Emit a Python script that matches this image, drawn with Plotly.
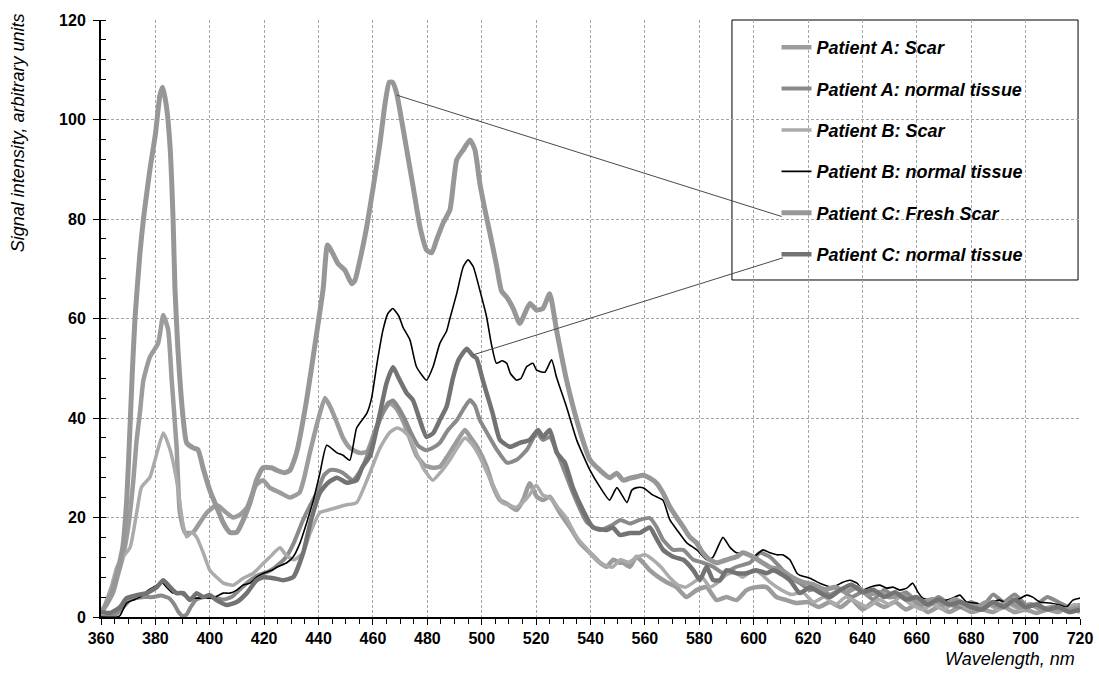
import plotly.graph_objects as go

# ---- spectra: wavelength (nm) and signal intensity (arbitrary units) ----
a_scar_wl = [360, 362, 364.5, 366, 368, 370, 371.9, 373, 374.3, 375.6, 378, 381, 382.9, 384.7, 386, 387.8, 389, 390.9,
             393.8, 396.4, 399, 402.6, 406, 408.5, 411, 413.7, 417, 419.6, 422, 425.8, 429.5, 433, 434.5, 436.8, 440,
             442.4, 444.5, 446.8, 449, 451.5, 455, 457.8, 460.5, 463, 466.2, 468.5, 471, 473.5, 476, 479, 482, 484.6,
             487, 490, 493.8, 496, 498.5, 501.8, 504, 506.7, 509.2, 512.8, 515.2, 517.7, 520.2, 522.6, 525, 528.8,
             532.4, 536.1, 539.8, 543.5, 545.9, 548.4, 550.8, 552, 554.5, 556.9, 559.4, 561.8, 565, 568, 571.6, 575.3,
             579, 582.7, 586.4, 590, 593.7, 597.4, 601, 604.7, 608.4, 612.1, 615.8, 620, 624, 628, 632, 636, 640, 644,
             648, 652, 656, 660, 664, 668, 672, 676, 680, 684, 688, 692, 696, 700, 704, 708, 712, 716, 720]
a_scar_val = [1, 2.5, 5, 8, 12, 18, 27.5, 35, 41, 47.6, 52.3, 55, 60.7, 57.7, 47.6, 34.2, 21, 17,
              17, 19, 21, 22.5, 21, 20, 20.5, 22, 26.5, 27.5, 26, 25, 24, 25, 27.5, 33, 40,
              44, 42, 39, 36, 34, 33, 33.2, 37, 40.5, 43, 42, 39.5, 36, 32.5, 30.5, 30, 30.2,
              32, 34.5, 37.6, 36, 34, 30.2, 26.5, 23.5, 22.8, 21.5, 23.5, 26.9, 24.2, 23.5, 24.2, 20.9,
              18.1, 14.9, 12.9, 10.9, 10.1, 11.5, 10.9, 10.9, 10.1, 12.1, 10.9, 9.4, 8, 7, 6, 4,
              5.4, 6, 3.4, 4, 3.4, 5.4, 6, 6, 4, 3.4, 2.8, 3, 2, 3, 2, 3.5, 1.5, 3,
              2, 3, 1.5, 2.5, 1, 2, 1, 2, 1, 1.5, 1, 2, 1, 1.5, 0.8, 1.5, 1, 2, 1]

a_norm_wl = [360, 365, 368.2, 370.7, 373, 376, 379, 382, 385, 387, 388.5, 390, 391.5, 393, 395, 398, 402.5, 405, 408,
             411, 414, 418, 421, 424, 428, 431, 434.3, 436.5, 439.4, 442, 444.2, 446.5, 448.9, 452.6, 455.5, 459,
             462.5, 465.5, 467.5, 469.5, 471.5, 474, 476.5, 479.5, 482, 484.6, 487.5, 490.9, 493.5, 495.7, 497.5,
             499.3, 502.5, 505.6, 509.3, 512.9, 516.6, 520.3, 522.5, 525, 528.8, 533.5, 538.7, 543.5, 548, 551,
             554.5, 558, 561.8, 564.3, 566.7, 570.4, 574.1, 577.8, 581.5, 585.1, 588.8, 593.7, 598.6, 602.3, 606,
             609.6, 613.3, 617, 620.7, 624, 628, 632, 636, 640, 644, 648, 652, 656, 660, 664, 668, 672, 676, 680,
             684, 688, 692, 696, 700, 704, 708, 712, 716, 720]
a_norm_val = [0, 0.3, 2, 3.4, 3.8, 4, 4, 4.3, 3.8, 2.5, 1, 0.2, 0.5, 2, 3.5, 4, 3.8, 3.5, 4,
              5.5, 7, 8.5, 9, 10, 12, 15, 19.5, 22, 25, 28.5, 29.5, 29.5, 29, 27.5, 29.5, 34,
              39.5, 43, 43.5, 42, 40, 37, 34.5, 33.5, 34, 35, 37.5, 39.6, 42, 43.6, 42.5,
              39.6, 36.5, 33.6, 31, 31.6, 33.6, 37, 35.6, 36.2, 31.6, 25, 19, 17.5, 18.5, 19.5,
              18.8, 19.5, 19.9, 18.1, 15.5, 13.5, 13.5, 11.5, 10.9, 10.1, 8.8, 10.1, 10.9, 12.9, 12.1,
              10.1, 8, 6.8, 5.4, 6, 4.5, 5.5, 4, 5, 3.5, 5.5, 4, 5, 3, 2.5, 4, 2.5, 2, 3,
              2, 4.5, 3, 4.5, 2.5, 2.5, 4, 3, 2, 2.5]

b_scar_wl = [360, 362, 364, 365.8, 368, 370.7, 373.1, 374.9, 378, 379.9, 382.9, 385.4, 387.8, 390.3, 391.5, 393.5,
             395.2, 397.6, 400, 402.5, 405, 408.6, 412.3, 416, 419.7, 422, 425.8, 428, 431, 434.3, 437, 440.5, 443.5,
             446.8, 450, 454, 457.8, 462.6, 466, 468.8, 471, 473.6, 476, 478.4, 482, 484.6, 488.3, 491, 493.8, 496,
             499, 502, 505, 507.5, 510, 512.5, 515, 517.5, 520, 522.5, 525, 528, 531, 535, 539, 542, 545, 548, 551,
             554, 557, 560, 563, 566, 569, 572, 575, 578, 581, 584, 587, 590, 593, 596, 600, 603, 606, 610, 614, 618,
             622, 626, 630, 634, 638, 642, 646, 650, 654, 658, 662, 666, 670, 674, 678, 682, 686, 690, 694, 698, 702,
             706, 710, 714, 718, 720]
b_scar_val = [0.5, 3.4, 6.5, 10, 12, 14, 20.9, 26.1, 28.1, 31.6, 37, 33.6, 27.5, 18.1, 16.1, 17,
              16, 12.9, 9.4, 8, 6.8, 6.4, 7.8, 8.8, 10.8, 12, 13.9, 12.5, 11.5, 12.9, 17, 21, 21.5,
              22, 22.5, 23, 27.5, 34, 37, 38, 37.5, 36, 33, 30, 27.5, 28.9, 31.6, 34, 36, 35,
              32.5, 29, 25.5, 23, 22.5, 22, 23, 24.5, 26.5, 24.5, 24, 22, 20, 16, 13.5, 11.5, 10.5, 10, 11.5,
              11, 12, 12.5, 11.5, 10, 8, 6.5, 6, 7, 8, 6, 7, 8.5, 9, 8, 9.5, 8.5, 7, 5.5, 4.5, 5,
              3, 4, 2.5, 4, 3, 2, 3.5, 2.5, 4, 2.5, 1.5, 2.5, 1.5, 3, 2, 1.5, 2.5, 1.5, 2.5, 1.5, 2.5,
              1.5, 2, 1.5, 2.5, 2]

b_norm_wl = [360, 366, 367, 369.4, 371.8, 374.3, 377.4, 380.5, 382.3, 384.1, 386.5, 389, 391.5, 393.9, 397.5, 401.2,
             404.9, 407.4, 409.9, 412.2, 414.8, 417.2, 419.7, 422.8, 424.6, 428.3, 430.7, 433.2, 435.6, 438.1, 440.5,
             443, 446.8, 449, 451.5, 454, 457.8, 459.5, 461.5, 463.7, 465.5, 467.3, 469.5, 471, 473.6, 476, 479.7,
             482.1, 484.6, 487.1, 488.3, 490.8, 493.2, 495, 496.9, 499.3, 501.8, 503.5, 505.4, 507.5, 509.2, 510.5,
             512.8, 514.5, 516.5, 518.8, 520.2, 523.2, 525.7, 527.5, 531.2, 534.9, 539.8, 543.5, 547, 549.7, 553.4,
             555.2, 557, 559.3, 563, 566.6, 569.2, 571.8, 575.4, 579.1, 582.8, 585, 588.7, 591.3, 593.8, 596, 599.7,
             603.4, 606, 608.5, 610.7, 613.3, 615.9, 617, 620.7, 624.3, 629.1, 632.8, 635.4, 638, 640.2, 642.7,
             646.4, 649, 651.2, 653.7, 656.3, 658.5, 660.4, 662.2, 664.8, 667.4, 671, 673.2, 675.8, 678.3, 682,
             685.7, 688, 690.5, 693, 696.8, 700.4, 702.6, 705.2, 708.9, 712.6, 715, 717.4, 720]
b_norm_val = [0, 0, 0.3, 2.8, 3.4, 4, 5.4, 6.4, 7, 6, 4.8, 4.8, 4, 3.8, 3.8, 3.8,
              4.8, 4.8, 5.4, 6.4, 6.8, 8, 8.8, 9.4, 10, 10.9, 12.1, 14.9, 18.9, 23.5, 28.9,
              34.5, 33, 32.5, 31.5, 38, 41, 44, 51, 57.7, 61, 62, 60.5, 58.3, 55.7, 50.3, 47.6,
              50.3, 55, 57.5, 60, 65, 70.4, 71.8, 70.4, 65.7, 60.3, 55, 51, 51.5, 51, 49,
              47.6, 48, 50.3, 51, 49.6, 49.2, 51.7, 48.2, 42.2, 35.6, 29.5, 26.1, 23.5, 26, 23,
              25.5, 26, 26, 24.5, 23.5, 19.5, 17.5, 14.9, 13.5, 11.5, 12, 16, 14, 12.9, 12.9, 12,
              13.5, 12.9, 12.5, 12.5, 11.5, 8.8, 8.4, 7.8, 6.8, 6, 7, 7.4, 6.8, 5.4, 6,
              6.4, 5.8, 6, 5.4, 5.8, 6.8, 5, 3.8, 3.4, 3, 3.4, 3.8, 4.4, 3, 2.8,
              2, 3, 3.4, 2.8, 3.4, 4.4, 4, 3, 2.8, 2.4, 2, 3.4, 3.8]

c_fresh_wl = [360, 362, 364, 366, 368, 369.5, 370.5, 371.5, 372.5, 374.3, 375.6, 378, 380, 381.7, 382.7, 384.1, 385.4,
              386.5, 387.2, 388.3, 390.2, 391.5, 393.9, 395.7, 397.5, 400, 402.6, 404.9, 407.4, 409.9, 412.3, 414.8,
              417.2, 419.6, 422.7, 424.6, 427.6, 429.5, 431.9, 435.6, 439.3, 441.7, 443.3, 445.3, 447.2, 449.7,
              452.2, 453.4, 455.2, 457.7, 460.1, 462.6, 464.4, 466, 467.2, 468.7, 470.5, 472.4, 474.8, 477.3,
              479.7, 481.6, 483.4, 485.8, 488.3, 490.8, 493.2, 495.7, 497.5, 499.3, 501.2, 503, 505.5, 507.3,
              509.2, 511.6, 514, 517.7, 520.2, 522.5, 525, 527.5, 531.2, 536, 539.8, 543.5, 547.1, 549.6, 552,
              554.5, 556.9, 559.4, 561.8, 564.3, 566.7, 569.2, 571.6, 574.1, 576.5, 579, 581.3, 583.8, 586.4,
              590, 593.7, 596, 599.7, 603, 606, 610, 614, 618, 622, 626, 630, 634, 638, 642, 646, 650, 654, 658,
              662, 666, 670, 674, 678, 682, 686, 690, 694, 698, 702, 706, 710, 714, 718, 720]
c_fresh_val = [1, 2.5, 5, 9, 14, 24, 36, 49, 60, 73, 80, 90, 97, 105, 106.5, 102.5, 94.5,
               80, 66, 53.7, 40, 35, 34, 33.6, 30, 25.5, 22, 19, 17, 17, 19.5, 23,
               27.5, 30, 30, 29.5, 29, 29.5, 33, 43.6, 57, 66, 74.8, 73, 71, 69.7,
               67, 67.7, 71.7, 78.4, 86.4, 95.3, 103, 107.5, 107.5, 105.3, 100, 94, 86.4, 78.4,
               73.8, 73.2, 75.8, 79.2, 81.8, 91.9, 93.9, 95.9, 93.9, 87.2, 81.8, 77.2, 70.5, 65.5,
               64.3, 62, 59, 63, 61.7, 62, 65, 57.7, 47.6, 37.6, 31.6, 29.5, 28, 28.9, 27.5,
               27.9, 28.2, 28.5, 27.9, 26.9, 24.9, 22.1, 20.1, 18.1, 16.1, 14.9, 12.9, 11.5, 10.9,
               11.5, 12.1, 12.9, 12.1, 11, 10, 9.5, 8, 7, 6.5, 5.5, 6, 5, 6, 4.5, 5, 4, 4.5, 3.5,
               3, 3.5, 2.5, 3.5, 2.5, 2, 3, 2, 3, 2, 2.5, 1.5, 2, 1.5, 1.5, 2]

c_norm_wl = [360, 363.3, 367, 369.4, 373.1, 376.8, 380.5, 382.9, 385.4, 387.8, 390.3, 392.7, 395.2, 397.6, 400, 402.5,
             406.2, 409.9, 413.6, 417.2, 419.7, 423.4, 427, 430.7, 434.4, 437, 440.5, 443.5, 446.8, 450.4, 454, 456,
             459, 462.6, 465, 467.4, 469.5, 472.4, 474.7, 477, 479.7, 482.2, 484.6, 487.1, 489.4, 491.5, 494.5,
             496.8, 498.1, 500.4, 501.8, 504, 506.7, 510.4, 514, 517.7, 520.7, 522.5, 525, 527.6, 530.6, 533.5,
             537.2, 540.9, 546, 548.2, 550.8, 554.5, 558.2, 561.8, 564, 566.7, 570.4, 574.1, 577.8, 580.2, 582.7,
             585.1, 587.6, 590, 593.7, 597.4, 601, 604.7, 607.2, 609.6, 613.3, 617, 620.7, 624, 628, 632, 636, 640,
             644, 648, 652, 656, 660, 664, 668, 672, 676, 680, 684, 688, 692, 696, 700, 704, 708, 712, 716, 720]
c_norm_val = [1, 0.8, 2, 3.8, 4.4, 4.8, 6, 7.4, 6, 4.8, 4.8, 3.4, 4.8, 4, 4.4, 3.4,
              2.4, 3, 4.8, 7.4, 8, 7.8, 7.4, 8, 13, 19, 25, 27, 28, 27, 27.5, 30,
              32.5, 41, 47, 50.2, 48, 45, 43.6, 40, 36.2, 37, 39.6, 42.3, 48, 51.7, 53.9,
              52.5, 52, 47.6, 45, 41, 35.6, 34.2, 35, 35.6, 37.6, 36.2, 37.6, 33, 31, 26,
              21.5, 18, 17.5, 18, 16.5, 16.9, 16.9, 18, 16, 13.5, 12.1, 11.5, 9.4, 7.4, 10.1,
              7.4, 7.4, 9.4, 8.8, 8.8, 9.4, 8.8, 9.4, 8.8, 7.4, 4.8, 6, 5, 4, 5.5, 6.5, 5,
              5.5, 4, 5, 3.5, 4, 2.5, 3.5, 2.5, 3, 2, 1.5, 3, 2, 3.5, 2, 2.5, 1.5, 2, 1, 1.5]

# legend label, wavelengths, values, colour, width
series = [
    ("Patient A: Scar", a_scar_wl, a_scar_val, "#9c9c9c", 4.5),
    ("Patient A: normal tissue", a_norm_wl, a_norm_val, "#8a8a8a", 4),
    ("Patient B: Scar", b_scar_wl, b_scar_val, "#ababab", 3.5),
    ("Patient B: normal tissue", b_norm_wl, b_norm_val, "#000000", 1.6),
    ("Patient C: Fresh Scar", c_fresh_wl, c_fresh_val, "#979797", 5),
    ("Patient C: normal tissue", c_norm_wl, c_norm_val, "#737373", 4.5),
]

FONT = "Liberation Sans, Arial, sans-serif"

fig = go.Figure()
for i, (name, wl, val, color, width) in enumerate(series):
    fig.add_trace(go.Scatter(
        x=wl, y=val, mode="lines", name=f"<b><i>{name}</i></b>",
        legendgroup=f"g{i}",
        line=dict(color=color, width=width, shape="spline", smoothing=0.5),
    ))

# legend frame and leader lines to the Patient C curves
fig.add_shape(type="rect", xref="paper", yref="paper", x0=0.6445, x1=0.998, y0=0.5645, y1=1.0,
              line=dict(color="#000000", width=1), fillcolor="white", layer="below")
fig.add_shape(type="line", xref="x", yref="y", x0=468.7, y0=104.9, x1=610.3, y1=80.5,
              line=dict(color="#4a4a4a", width=1))
fig.add_shape(type="line", xref="x", yref="y", x0=496.9, y0=52.7, x1=610.8, y1=72.2,
              line=dict(color="#4a4a4a", width=1))

fig.add_annotation(text="<i>Signal intensity, arbitrary units</i>", xref="paper", yref="paper",
                   x=-0.0848, y=0.812, xanchor="center", yanchor="middle", textangle=-90, showarrow=False,
                   font=dict(family="Liberation Sans Narrow, " + FONT, size=18, color="#000000"))
fig.add_annotation(text="<i>Wavelength, nm</i>", xref="paper", yref="paper",
                   x=0.9965, y=-0.0703, xanchor="right", yanchor="middle", showarrow=False,
                   font=dict(family=FONT, size=18, color="#000000"))

grid = dict(showgrid=True, gridcolor="#a6a6a6", gridwidth=1, griddash="3px,2px")
fig.update_xaxes(range=[360, 720], tick0=360, dtick=20, ticks="outside", ticklen=6, tickcolor="#000",
                 showline=True, linecolor="#000", linewidth=2, zeroline=False, automargin=False,
                 tickfont=dict(family=FONT, size=16, color="#000", weight="bold"),
                 minor=dict(dtick=5, ticks="outside", ticklen=5, tickcolor="#000", showgrid=False),
                 **grid)
fig.update_yaxes(range=[0, 120], tick0=0, dtick=20, ticks="outside", ticklen=6, tickcolor="#000",
                 showline=True, linecolor="#000", linewidth=2, zeroline=False, automargin=False,
                 ticklabelstandoff=4,
                 tickfont=dict(family=FONT, size=16, color="#000", weight="bold"),
                 minor=dict(dtick=4, ticks="inside", ticklen=5, tickcolor="#000", showgrid=False),
                 **grid)

fig.update_layout(
    width=1099, height=687,
    margin=dict(l=101, r=19, t=20, b=70, autoexpand=False),
    paper_bgcolor="white", plot_bgcolor="white",
    font=dict(family=FONT, color="#000"),
    legend=dict(x=0.69, y=0.985, xanchor="left", yanchor="top", bgcolor="rgba(0,0,0,0)",
                borderwidth=0, traceorder="grouped", tracegroupgap=15, itemwidth=30,
                font=dict(family=FONT, size=18, color="#000")),
)

fig.write_html("out.html")
